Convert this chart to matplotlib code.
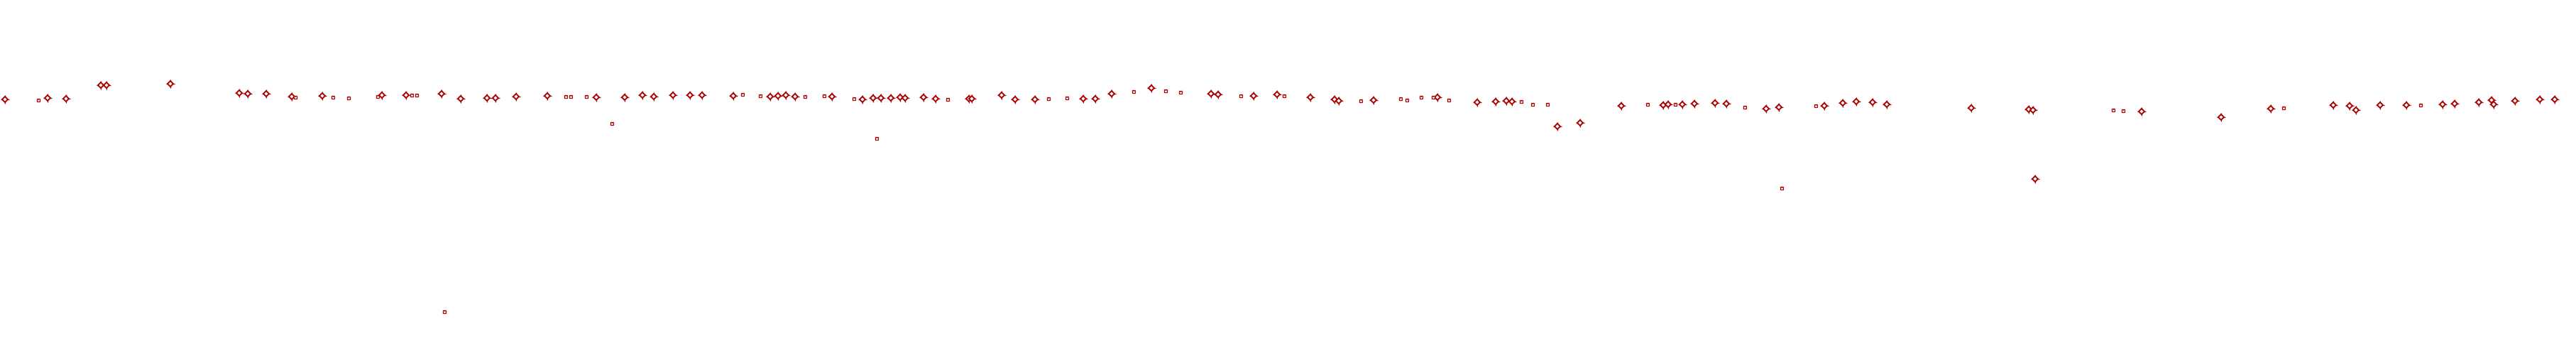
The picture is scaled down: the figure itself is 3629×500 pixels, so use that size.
import matplotlib
matplotlib.use("Agg")
import matplotlib.pyplot as plt

# Series A (diamond markers)
diamond_x = [7, 67, 93, 142, 150, 240, 337, 349, 375, 411, 454, 538, 572, 622, 649, 686, 698, 727, 771,
             840, 880, 905, 921, 948, 972, 989, 1033, 1085, 1096, 1107, 1120, 1172, 1215, 1230, 1241, 1255,
             1268, 1275, 1301, 1318, 1365, 1369, 1411, 1430, 1458, 1526, 1543, 1566, 1622, 1706, 1716, 1766,
             1799, 1846, 1880, 1886, 1935, 2025, 2081, 2107, 2122, 2130, 2194, 2226, 2284, 2343, 2350, 2370,
             2387, 2416, 2432, 2488, 2506, 2570, 2596, 2615, 2638, 2658, 2777, 2858, 2864, 2867, 3017, 3129,
             3199, 3287, 3310, 3319, 3353, 3390, 3441, 3458, 3492, 3510, 3513, 3543, 3578, 3599]
diamond_y = [140, 138, 139, 120, 120, 118, 131, 132, 132, 136, 135, 134, 134, 132, 139, 138, 138, 136, 135,
             137, 137, 134, 136, 134, 134, 134, 135, 136, 135, 134, 136, 136, 140, 138, 138, 138,
             137, 138, 137, 139, 139, 139, 134, 140, 140, 139, 139, 132, 124, 132, 133, 135,
             133, 137, 140, 142, 141, 137, 144, 143, 142, 143, 178, 173, 149, 148, 147, 147,
             146, 145, 146, 153, 151, 149, 145, 143, 144, 147, 152, 154, 155, 252, 157, 165,
             153, 148, 149, 155, 148, 148, 147, 146, 144, 141, 147, 142, 140, 140]

# Series B (small square markers)
square_x = [54, 416, 469, 491, 532, 580, 587, 626, 797, 804, 826, 862, 1046, 1071, 1134, 1161, 1203, 1235,
            1335, 1477, 1503, 1597, 1642, 1663, 1748, 1809, 1917, 1973, 1982, 2002, 2019, 2041, 2143, 2159,
            2180, 2321, 2360, 2458, 2510, 2558, 2977, 2991, 3217, 3410]
square_y = [141, 137, 137, 138, 136, 134, 134, 439, 136, 136, 136, 174, 133, 135, 136, 135, 139, 195,
            140, 139, 138, 129, 128, 130, 135, 135, 142, 139, 141, 137, 137, 141, 143, 147,
            147, 147, 147, 151, 265, 149, 155, 156, 152, 148]

color = "#aa0000"
W, H, DPI = 3630, 500, 100
fig = plt.figure(figsize=(W / DPI, H / DPI), dpi=DPI)
ax = fig.add_axes([0, 0, 1, 1])
ax.set_xlim(0, W)
ax.set_ylim(H, 0)
ax.axis("off")

# diamonds with small cross ticks at the tips
ax.plot(diamond_x, diamond_y, linestyle="none", marker="+", markersize=8.2,
        markeredgewidth=0.9, color=color, antialiased=False)
ax.plot(diamond_x, diamond_y, linestyle="none", marker="D", markersize=4.4,
        markeredgewidth=1.4, markerfacecolor="white", markeredgecolor=color,
        antialiased=False)

# small squares with a centre dot
ax.plot(square_x, square_y, linestyle="none", marker="s", markersize=3.4,
        markeredgewidth=0.9, markerfacecolor="white", markeredgecolor=color,
        antialiased=False)
ax.plot(square_x, square_y, linestyle="none", marker=",", color=color)

fig.savefig("out.png", dpi=DPI, facecolor="white")
